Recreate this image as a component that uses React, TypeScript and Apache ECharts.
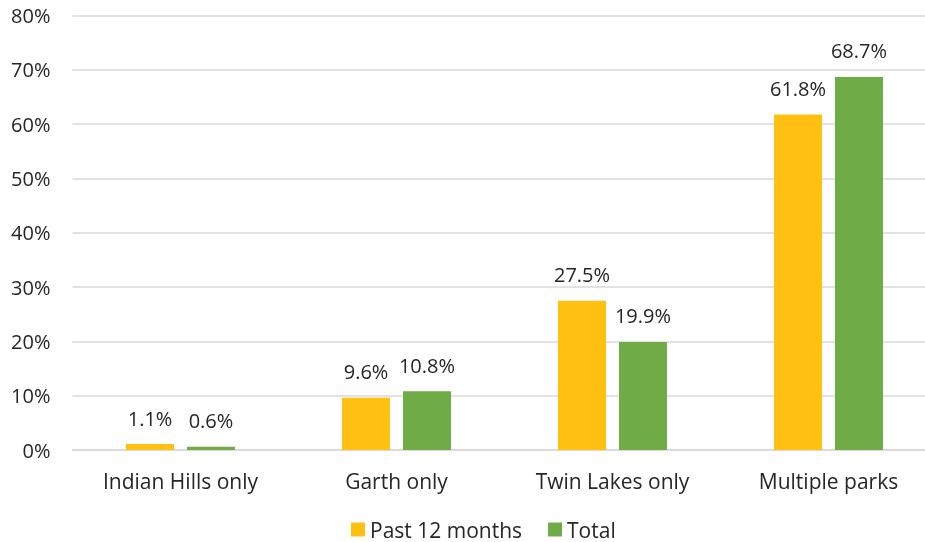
import React, { useEffect, useRef } from "react";
import * as echarts from "echarts";

const categories = ["Indian Hills only", "Garth only", "Twin Lakes only", "Multiple parks"];
const past12 = [1.1, 9.6, 27.5, 61.8];
const total = [0.6, 10.8, 19.9, 68.7];
const seriesNames = ["Past 12 months", "Total"];

const FONT = "Open Sans";
const TXT = "#262626";

export default function App() {
  const ref = useRef<HTMLDivElement>(null);
  useEffect(() => {
    const chart = echarts.init(ref.current!, null, { renderer: "svg" });
    const label = {
      show: true,
      position: "top" as const,
      distance: 16,
      formatter: (p: any) => p.value.toFixed(1) + "%",
      color: TXT,
      fontFamily: FONT,
      fontSize: 20,
    };
    chart.setOption({
      animation: false,
      textStyle: { fontFamily: FONT },
      grid: {
        left: 72.5,
        width: 864,
        top: 15.6,
        height: 434.4,
        containLabel: false,
        outerBoundsMode: "none",
      },
      legend: {
        top: 519,
        left: 351,
        padding: 0,
        itemWidth: 14,
        itemHeight: 14,
        itemGap: 26,
        icon: "rect",
        textStyle: { color: TXT, fontSize: 21, fontFamily: FONT },
        data: seriesNames,
      },
      xAxis: {
        type: "category",
        data: categories,
        axisLine: { lineStyle: { color: "#D9D9D9", width: 1.5 } },
        axisTick: { show: false },
        axisLabel: { color: TXT, fontSize: 21, fontFamily: FONT, margin: 20 },
      },
      yAxis: {
        type: "value",
        min: 0,
        max: 80,
        interval: 10,
        axisLabel: {
          formatter: "{value}%",
          color: TXT,
          fontSize: 20,
          fontFamily: FONT,
          margin: 22,
          align: "right",
        },
        splitLine: { lineStyle: { color: "#D9D9D9", width: 1.5 } },
        axisLine: { show: false },
        axisTick: { show: false },
      },
      series: [
        {
          name: seriesNames[0],
          type: "bar",
          data: past12,
          barWidth: 48,
          barGap: "27%",
          itemStyle: { color: "#FFC012" },
          label,
        },
        {
          name: seriesNames[1],
          type: "bar",
          data: total,
          barWidth: 48,
          itemStyle: { color: "#6FAC46" },
          label,
        },
      ],
    });
    return () => chart.dispose();
  }, []);
  return (
    <div
      ref={ref}
      style={{ position: "fixed", left: 0, top: 0, width: 925, height: 542 }}
    />
  );
}
